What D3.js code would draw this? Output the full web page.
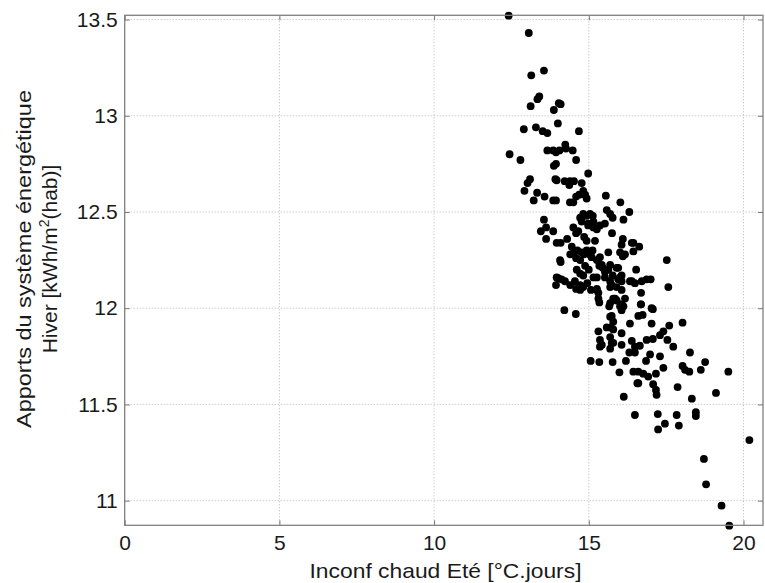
<!DOCTYPE html>
<html><head><meta charset="utf-8">
<script src="https://cdn.jsdelivr.net/npm/d3@7"></script>
<style>body{margin:0;background:#fff}svg{display:block}</style>
</head><body><svg id="c" width="765" height="583"></svg>
<script>
const xTicks = [0, 5, 10, 15, 20];
const yTicks = [11, 11.5, 12, 12.5, 13, 13.5];
const xTitle = "Inconf chaud Eté [°C.jours]";
const yTitle1 = "Apports du système énergétique";
const yTitle2a = "Hiver [kWh/m";
const yTitle2sup = "2";
const yTitle2b = "(hab)]";

const inconf = [
12.41,13.06,13.14,13.55,13.40,13.34,13.12,14.09,14.03,13.87,
14.00,12.90,13.29,13.51,13.66,14.68,12.44,12.79,13.66,13.85,
13.94,14.05,14.26,14.24,14.48,13.94,13.87,14.59,14.98,13.10,
13.92,13.96,14.22,14.39,14.52,14.77,13.02,14.37,12.92,13.33,
13.22,13.57,13.85,13.94,14.59,14.69,14.82,14.88,14.93,14.39,
14.50,15.55,16.02,14.82,14.93,15.04,15.13,14.77,14.98,15.15,
15.58,15.69,15.77,16.31,16.12,13.55,13.45,13.62,13.85,13.62,
14.50,14.59,14.98,15.15,15.26,15.36,15.52,15.75,16.10,16.44,
13.96,14.09,14.93,14.45,14.52,14.63,14.77,14.93,14.84,15.02,
14.59,14.72,14.07,15.09,15.26,15.36,15.63,16.01,16.17,16.44,
16.06,15.34,15.45,15.52,14.61,14.72,14.82,15.95,16.01,16.06,
15.26,15.52,15.69,15.74,13.96,14.12,13.94,14.55,14.72,14.82,
14.59,15.07,15.26,15.31,15.34,15.79,16.06,16.17,16.39,16.49,
15.66,16.06,16.01,14.21,14.58,15.74,15.79,15.71,15.79,15.58,
16.06,16.33,15.31,15.36,15.42,15.69,15.79,16.06,16.39,16.60,
16.63,17.52,16.53,16.71,16.87,17.00,17.57,16.69,16.69,17.03,
16.74,17.03,17.60,18.03,16.87,17.07,17.30,17.41,17.54,17.73,
16.49,16.65,16.31,16.49,16.98,17.30,18.27,16.85,18.76,16.44,
16.60,16.76,16.92,17.17,17.41,18.03,18.11,18.25,18.62,19.51,
16.60,17.08,17.17,17.19,17.87,19.11,18.33,16.49,17.23,17.84,
18.46,18.46,17.46,17.24,17.91,20.19,18.72,18.79,19.29,19.54,
15.06,15.34,15.77,16.20,15.99,16.57,16.13,15.90,16.12,16.68,
17.07,14.09,14.01,14.23,14.72,15.15,15.31,15.26,15.69,15.90,
15.85,15.77,16.06,15.95,16.33,15.42,15.63,15.69,15.90,16.10,
16.39,15.69,16.06,15.69,15.74,15.36,15.69,14.72,14.85,14.66,
14.40,14.30,14.88,15.00,15.12,15.20,14.95,14.40
];
const apports = [
13.52,13.43,13.21,13.235,13.10,13.086,13.05,13.06,13.065,13.03,
12.96,12.93,12.94,12.92,12.91,12.92,12.80,12.77,12.82,12.82,
12.81,12.82,12.83,12.85,12.82,12.75,12.74,12.77,12.70,12.67,
12.67,12.665,12.66,12.66,12.66,12.65,12.65,12.64,12.61,12.60,
12.56,12.58,12.56,12.56,12.58,12.59,12.61,12.59,12.57,12.55,
12.55,12.585,12.55,12.49,12.48,12.49,12.48,12.45,12.44,12.45,
12.51,12.49,12.47,12.50,12.46,12.46,12.40,12.42,12.40,12.36,
12.42,12.39,12.43,12.42,12.41,12.43,12.44,12.39,12.36,12.34,
12.34,12.34,12.35,12.32,12.29,12.30,12.29,12.30,12.28,12.28,
12.26,12.25,12.25,12.265,12.25,12.265,12.29,12.29,12.28,12.295,
12.33,12.22,12.21,12.19,12.20,12.18,12.17,12.21,12.16,12.14,
12.16,12.16,12.14,12.12,12.16,12.15,12.12,12.14,12.12,12.11,
12.10,12.095,12.095,12.05,12.03,12.05,12.095,12.05,12.14,12.13,
12.01,11.99,12.01,11.99,11.97,11.96,11.93,11.90,11.89,11.90,
11.87,11.92,11.88,11.835,11.81,11.85,11.82,11.81,11.83,11.96,
12.32,12.25,12.20,12.14,12.15,12.15,12.11,12.08,12.02,12.00,
11.965,11.92,11.91,11.925,11.835,11.84,11.86,11.88,11.835,11.80,
11.80,11.805,11.77,11.77,11.76,11.75,11.77,11.726,11.72,11.67,
11.67,11.66,11.645,11.66,11.69,11.70,11.68,11.67,11.68,11.67,
11.61,11.605,11.575,11.55,11.59,11.56,11.53,11.445,11.45,11.445,
11.46,11.44,11.40,11.37,11.39,11.315,11.217,11.085,10.974,10.87,
11.726,11.72,11.72,11.726,11.667,11.61,11.54,12.04,12.01,12.02,
11.995,12.24,12.156,12.14,12.095,12.16,12.08,12.10,12.11,12.11,
12.05,12.17,12.17,12.15,12.14,12.225,12.20,12.225,12.21,12.27,
12.34,12.026,12.02,11.956,11.82,11.80,11.79,12.47,12.37,12.40,
12.28,12.36,12.22,12.20,12.30,12.35,12.13,12.12
];

const L = 124.7, R = 763, T = 15.3, B = 525.3;
const svg = d3.select("#c");
const x = d3.scaleLinear().domain([0, 20.63]).range([L, R]);
const y = d3.scaleLinear().domain([10.872, 13.522]).range([B, T]);
const font = "'Liberation Sans', Arial, Helvetica, sans-serif";
const txt = "#1a1a1a";

svg.append("rect").attr("width", 765).attr("height", 583).attr("fill", "#fff");

// grid
const grid = svg.append("g").attr("stroke", "#b8b8b8").attr("stroke-width", 1)
  .attr("stroke-dasharray", "1,2").attr("fill", "none");
grid.selectAll(".gx").data(xTicks.filter(d => d > 0)).join("line")
  .attr("x1", d => x(d)).attr("x2", d => x(d)).attr("y1", T).attr("y2", B);
grid.selectAll(".gy").data(yTicks).join("line")
  .attr("x1", L).attr("x2", R).attr("y1", d => y(d)).attr("y2", d => y(d));

// points
const pts = d3.range(Math.min(inconf.length, apports.length)).map(i => [inconf[i], apports[i]]);
svg.append("g").selectAll("circle").data(pts).join("circle")
  .attr("cx", d => x(d[0])).attr("cy", d => y(d[1])).attr("r", 3.9).attr("fill", "#000");

// axes
const ax = svg.append("g").attr("transform", `translate(0,${B})`)
  .call(d3.axisBottom(x).tickValues(xTicks).tickFormat(d3.format("d")).tickSizeInner(-5).tickSizeOuter(0).tickPadding(10));
const ay = svg.append("g").attr("transform", `translate(${L},0)`)
  .call(d3.axisLeft(y).tickValues(yTicks).tickFormat(d => String(d)).tickSizeInner(-5).tickSizeOuter(0).tickPadding(7));
const axTop = svg.append("g").attr("transform", `translate(0,${T})`)
  .call(d3.axisTop(x).tickValues(xTicks).tickFormat("").tickSizeInner(-5).tickSizeOuter(0));
const ayR = svg.append("g").attr("transform", `translate(${R},0)`)
  .call(d3.axisRight(y).tickValues(yTicks).tickFormat("").tickSizeInner(-5).tickSizeOuter(0));
[ax, ay, axTop, ayR].forEach(g => {
  g.select(".domain").remove();
  g.selectAll(".tick line").attr("stroke", "#777").attr("stroke-width", 1);
  g.selectAll(".tick text").attr("fill", txt).style("font-family", font).style("font-size", "21px");
});

// box
svg.append("rect").attr("x", L).attr("y", T).attr("width", R - L).attr("height", B - T)
  .attr("fill", "none").attr("stroke", "#808080").attr("stroke-width", 1.3);

// titles
svg.append("text").attr("x", 445.5).attr("y", 578).attr("text-anchor", "middle")
  .attr("textLength", 272).attr("lengthAdjust", "spacingAndGlyphs")
  .attr("fill", txt).style("font-family", font).style("font-size", "21px").text(xTitle);

const yt = svg.append("g").attr("transform", `translate(0,259) rotate(-90)`);
yt.append("text").attr("x", 0).attr("y", 31).attr("text-anchor", "middle")
  .attr("textLength", 338).attr("lengthAdjust", "spacingAndGlyphs")
  .attr("fill", txt).style("font-family", font).style("font-size", "21px").text(yTitle1);
const t2 = yt.append("text").attr("x", 0).attr("y", 57).attr("text-anchor", "middle")
  .attr("fill", txt).style("font-family", font).style("font-size", "21px");
t2.append("tspan").text(yTitle2a);
t2.append("tspan").attr("dy", -8).style("font-size", "14px").text(yTitle2sup);
t2.append("tspan").attr("dy", 8).text(yTitle2b);
</script>
</body></html>
